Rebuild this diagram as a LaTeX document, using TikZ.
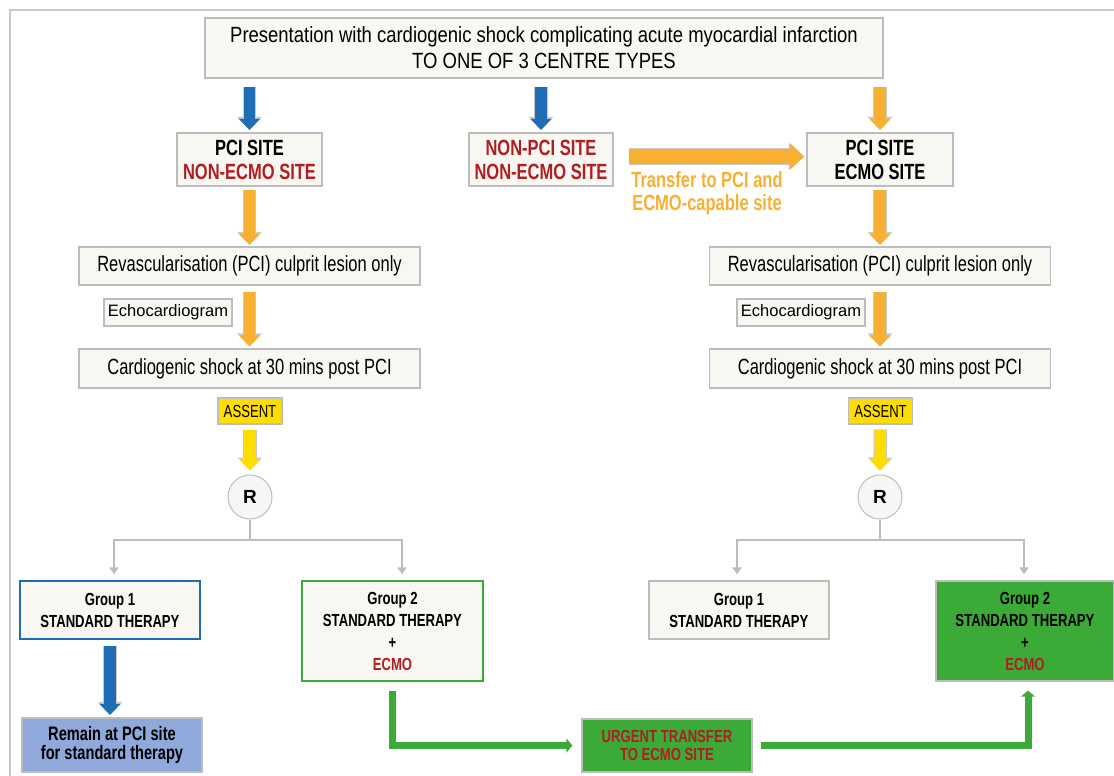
\documentclass[tikz,border=0pt]{standalone}
\usepackage{fontspec}
\setmainfont[FakeStretch=0.75]{Liberation Sans}
\newfontfamily\widefont{Liberation Sans}
\newfontfamily\titlefont[FakeStretch=0.84]{Liberation Sans}
\usetikzlibrary{arrows.meta,positioning}
\definecolor{boxfill}{HTML}{F8F7F1}
\definecolor{boxline}{HTML}{BDBDBD}
\definecolor{arrline}{HTML}{C9C9C9}
\definecolor{darkred}{HTML}{B01E23}
\definecolor{orangeA}{HTML}{F7B032}
\definecolor{blueA}{HTML}{1F6EB5}
\definecolor{yellowA}{HTML}{FFDD00}
\definecolor{greenA}{HTML}{3CAA36}
\definecolor{remainfill}{HTML}{8EA9DA}
\definecolor{framegray}{HTML}{C8C8C8}
\definecolor{circfill}{HTML}{F6F6F4}
\tikzset{
  bx/.style={draw=boxline, fill=boxfill, line width=1.3pt, align=center, inner sep=0pt},
  sitebox/.style={bx, font=\fontsize{22}{24}\selectfont\bfseries},
  grp/.style={bx, font=\fontsize{17.5}{22}\selectfont\bfseries},
  txt/.style={bx, font=\fontsize{22}{26}\selectfont},
  fat/.style={preaction={draw=arrline, line width=13.5pt, -{Triangle[length=13pt,width=24pt]}},
              line width=11.5pt, -{Triangle[length=11pt,width=21pt]}},
  fatblue/.style={fat, draw=blueA},
  fatorange/.style={fat, draw=orangeA},
  fatyellow/.style={fat, draw=yellowA},
  widearrow/.style={preaction={draw=arrline, line width=16.5pt, -{Triangle[length=15.5pt,width=27pt]}},
              draw=orangeA, line width=15pt, -{Triangle[length=14pt,width=25pt]}},
  tree/.style={draw=boxline, line width=1.6pt, -{Triangle[length=7pt,width=9pt]}},
  grn/.style={draw=greenA, line width=7pt, -{Triangle[length=6pt,width=14pt]}},
}
\begin{document}
\begin{tikzpicture}[x=1pt,y=-1pt]
\useasboundingbox (0,0) rectangle (1114,776);
% frame
\draw[framegray, line width=1.5pt] (10,776) -- (10,10) -- (1114,10);

% top
\node[bx, font=\titlefont\fontsize{22}{26}\selectfont, minimum width=678, minimum height=60] (top) at (544,48)
  {Presentation with cardiogenic shock complicating acute myocardial infarction\\TO ONE OF 3 CENTRE TYPES};

% sites
\node[sitebox, minimum width=145, minimum height=53] (pci1) at (249.5,159.5)
  {PCI SITE\\\textcolor{darkred}{NON-ECMO SITE}};
\node[sitebox, minimum width=144, minimum height=53, text=darkred] (npci) at (541,159.5)
  {NON-PCI SITE\\NON-ECMO SITE};
\node[sitebox, minimum width=146, minimum height=53] (pci2) at (880,159.5)
  {PCI SITE\\ECMO SITE};

\draw[fatblue, shorten <=8pt, shorten >=2.5pt] (top.south -| pci1.north) -- (pci1.north);
\draw[fatblue, shorten <=8pt, shorten >=2.5pt] (top.south -| npci.north) -- (npci.north);
\draw[fatorange, shorten <=8pt, shorten >=2.5pt] (top.south -| pci2.north) -- (pci2.north);

\draw[widearrow, shorten <=15pt, shorten >=2pt] ([yshift=3pt]npci.east) -- ([yshift=3pt]pci2.west);
\node[text=orangeA, font=\fontsize{22}{23}\selectfont\bfseries, align=center] (tlabel) at (707,193)
  {Transfer to PCI and\\ECMO-capable site};

% left column
\node[txt, minimum width=341, minimum height=38] (rev1) at (249.5,266)
  {Revascularisation (PCI) culprit lesion only};
\node[bx, font=\widefont\fontsize{16.5}{18}\selectfont, minimum width=128, minimum height=27] (echo1) at (168,312.5)
  {Echocardiogram};
\node[txt, minimum width=341, minimum height=39] (cs1) at (249.5,368.5)
  {Cardiogenic shock at 30 mins post PCI};
\node[bx, fill=yellowA, font=\fontsize{17.5}{20}\selectfont, minimum width=64, minimum height=26] (as1) at (250,411)
  {ASSENT};
\node[bx, circle, fill=circfill, draw=boxline, line width=1pt, minimum size=44, font=\widefont\fontsize{19}{20}\selectfont\bfseries] (R1) at (250,497) {R};

\draw[fatorange, shorten <=3pt, shorten >=1.5pt] (pci1.south) -- (rev1.north);
\draw[fatorange, shorten <=6pt, shorten >=2pt] (rev1.south) -- (cs1.north);
\draw[fatyellow, shorten <=5pt, shorten >=4pt] (as1.south) -- (R1.north);

% right column
\node[txt, minimum width=341, minimum height=38] (rev2) at (880,266)
  {Revascularisation (PCI) culprit lesion only};
\node[bx, font=\widefont\fontsize{16.5}{18}\selectfont, minimum width=128, minimum height=27] (echo2) at (801,312.5)
  {Echocardiogram};
\node[txt, minimum width=341, minimum height=39] (cs2) at (880,368.5)
  {Cardiogenic shock at 30 mins post PCI};
\node[bx, fill=yellowA, font=\fontsize{17.5}{20}\selectfont, minimum width=64, minimum height=26] (as2) at (880.5,411)
  {ASSENT};
\node[bx, circle, fill=circfill, draw=boxline, line width=1pt, minimum size=44, font=\widefont\fontsize{19}{20}\selectfont\bfseries] (R2) at (880,497) {R};

\draw[fatorange, shorten <=3pt, shorten >=1.5pt] (pci2.south) -- (rev2.north);
\draw[fatorange, shorten <=6pt, shorten >=2pt] (rev2.south) -- (cs2.north);
\draw[fatyellow, shorten <=5pt, shorten >=4pt] (as2.south) -- (R2.north);

% groups
\node[grp, draw=blueA, minimum width=180, minimum height=58] (g1L) at (110,610)
  {Group 1\\STANDARD THERAPY};
\node[grp, draw=greenA, minimum width=181, minimum height=100] (g2L) at (392.5,631)
  {Group 2\\STANDARD THERAPY\\+\\\textcolor{darkred}{ECMO}};
\node[grp, minimum width=180, minimum height=58] (g1R) at (739,610)
  {Group 1\\STANDARD THERAPY};
\node[grp, fill=greenA, minimum width=178, minimum height=100] (g2R) at (1025,631)
  {Group 2\\STANDARD THERAPY\\+\\\textcolor{darkred}{ECMO}};

\coordinate (s1) at (250,540);
\coordinate (s2) at (880,540);
\draw[draw=boxline, line width=1.6pt] (R1.south) -- (s1);
\draw[tree, shorten >=6pt] (s1) -| ([xshift=4pt]g1L.north);
\draw[tree, shorten >=6pt] (s1) -| ([xshift=9.5pt]g2L.north);
\draw[draw=boxline, line width=1.6pt] (R2.south) -- (s2);
\draw[tree, shorten >=6pt] (s2) -| ([xshift=-2pt]g1R.north);
\draw[tree, shorten >=6pt] (s2) -| ([xshift=-1pt]g2R.north);

% bottom
\node[grp, fill=remainfill, font=\fontsize{19.5}{19}\selectfont\bfseries, minimum width=180, minimum height=54] (remain) at (112,745)
  {Remain at PCI site\\for standard therapy};
\node[grp, fill=greenA, text=darkred, font=\fontsize{17.5}{18}\selectfont\bfseries, minimum width=170, minimum height=53] (urgent) at (667,745.5)
  {URGENT TRANSFER\\TO ECMO SITE};

\draw[fatblue, shorten <=6pt, shorten >=2.5pt] (g1L.south) -- (g1L.south |- remain.north);
\draw[grn, shorten <=9pt, shorten >=9pt] (g2L.south) |- (urgent.west);
\draw[grn, shorten <=8pt, shorten >=9pt] (urgent.east) -| ([xshift=3pt]g2R.south);
\end{tikzpicture}
\end{document}
